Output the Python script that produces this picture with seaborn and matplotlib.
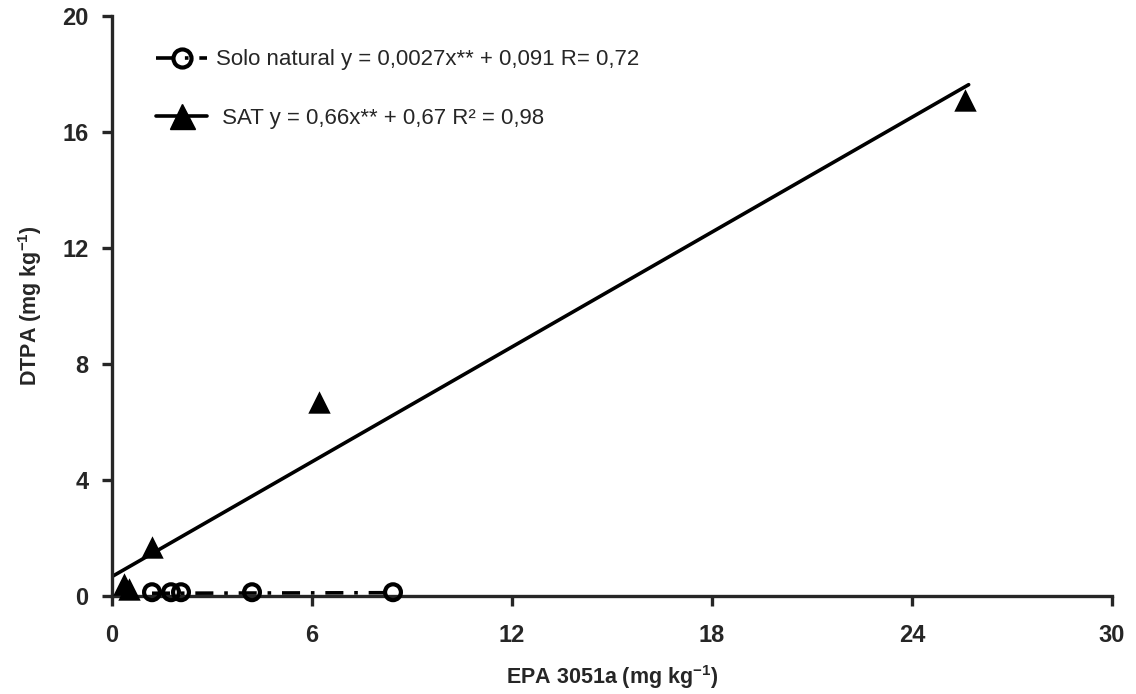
import numpy as np
import pandas as pd
import matplotlib.pyplot as plt
import seaborn as sns
from matplotlib.lines import Line2D

# data
sat_x = [0.35, 0.5, 1.2, 6.2, 25.6]
sat_y = [0.4, 0.25, 1.7, 6.7, 17.1]
solo_x = [1.2, 1.77, 2.07, 4.2, 8.43]
solo_y = [0.13, 0.13, 0.13, 0.13, 0.13]

# fitted equations given in the legend
sat_coef = (0.66, 0.67)
solo_coef = (0.0027, 0.091)

sns.set_style("ticks")
plt.rcParams['font.family'] = ['Liberation Sans', 'DejaVu Sans']

fig = plt.figure(figsize=(11.36, 6.94), dpi=100)
ax = fig.add_axes([112 / 1136, 1 - 596 / 694, 1000 / 1136, 580 / 694])

# fit lines
xs = np.array([0, 25.7])
ax.plot(xs, sat_coef[0] * xs + sat_coef[1], color='black', lw=2.6, solid_capstyle='round')
xn = np.array([min(solo_x), max(solo_x)])
ax.plot(xn, solo_coef[0] * xn + solo_coef[1], color='black', lw=2.6,
        linestyle=(0, (5, 3, 1, 3)), clip_on=False)

sat = pd.DataFrame({'x': sat_x, 'y': sat_y})
solo = pd.DataFrame({'x': solo_x, 'y': solo_y})
sns.scatterplot(data=sat, x='x', y='y', marker='^', s=260, color='black',
                edgecolor='black', linewidth=0, ax=ax, clip_on=False, zorder=4)
sns.scatterplot(data=solo, x='x', y='y', marker='o', s=130, facecolor='none',
                edgecolor='black', linewidth=3, ax=ax, clip_on=False, zorder=4)

ax.set_xlim(0, 30)
ax.set_ylim(0, 20)
ax.set_xticks([0, 6, 12, 18, 24, 30])
ax.set_yticks([0, 4, 8, 12, 16, 20])
sns.despine(ax=ax)
for s in ['left', 'bottom']:
    ax.spines[s].set_linewidth(2.4)
ax.tick_params(axis='both', direction='out', length=7, width=2.4, labelsize=17)
ax.tick_params(axis='x', pad=13)
ax.tick_params(axis='y', pad=10)
for lab in ax.get_xticklabels() + ax.get_yticklabels():
    lab.set_fontweight('bold')

ax.set_xlabel('EPA 3051a (mg kg$^{\\mathregular{-1}}$)', fontsize=15.5, fontweight='bold', labelpad=12)
ax.set_ylabel('DTPA (mg kg$^{\\mathregular{-1}}$)', fontsize=15.5, fontweight='bold', labelpad=13)

handles = [
    Line2D([], [], color='black', lw=2.6, linestyle=(0, (5, 3, 1, 3)), marker='o',
           markersize=13, markerfacecolor='none', markeredgewidth=3),
    Line2D([], [], color='black', lw=2.6, marker='^', markersize=18),
]
labels = ['Solo natural y = 0,0027x** + 0,091 R= 0,72',
          ' SAT y = 0,66x** + 0,67 R² = 0,98']
ax.legend(handles, labels, loc='upper left', bbox_to_anchor=(0.024, 0.977),
          frameon=False, fontsize=16, handlelength=2.3, handletextpad=0.4,
          labelspacing=1.7)

fig.savefig('out.png', dpi=100)
